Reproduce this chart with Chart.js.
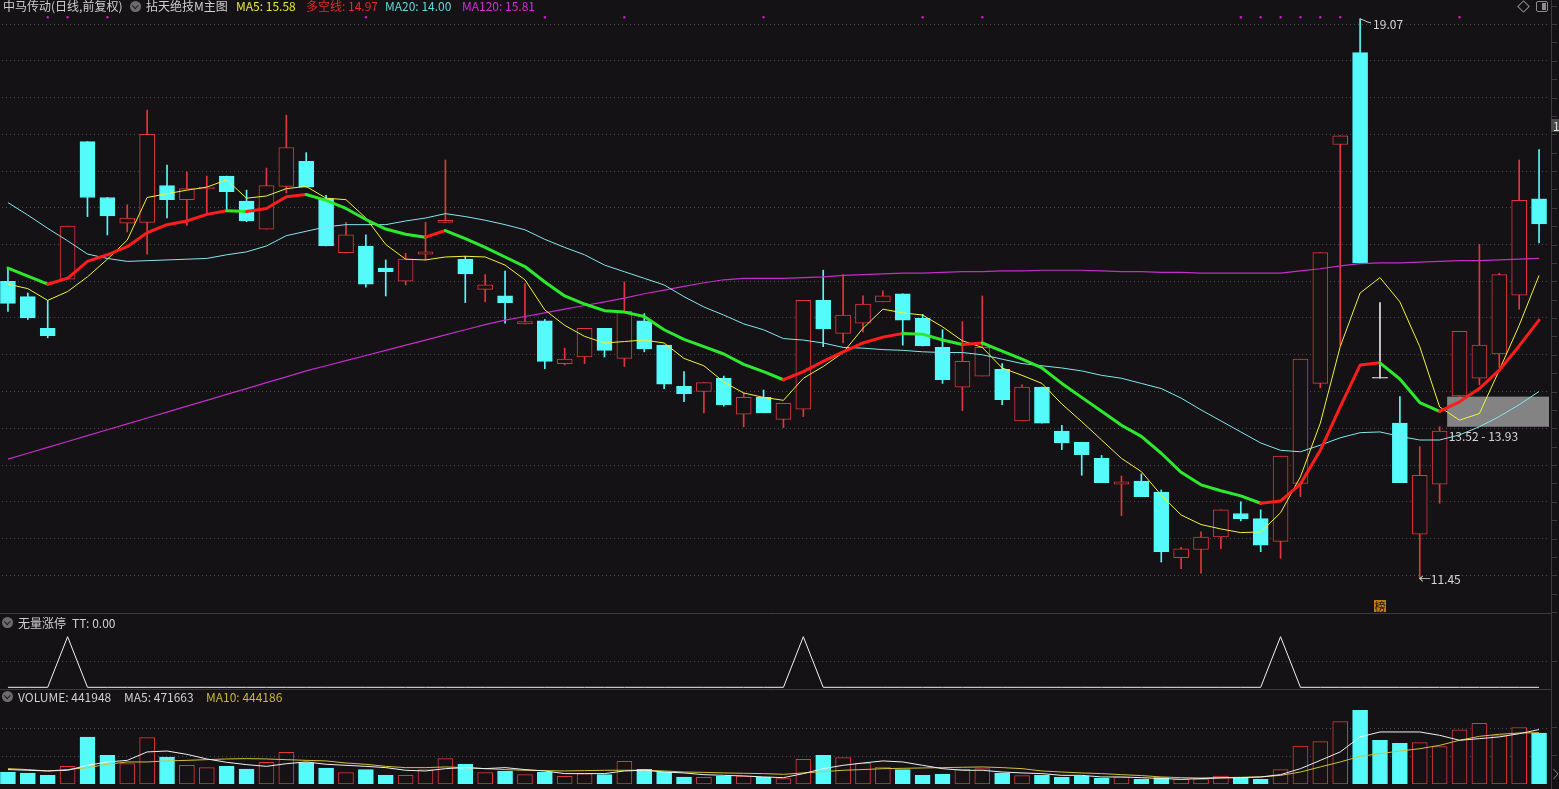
<!DOCTYPE html>
<html lang="zh-CN">
<head>
<meta charset="utf-8">
<title>中马传动</title>
<script src="https://cdn.jsdelivr.net/npm/chart.js@4.4.1/dist/chart.umd.min.js"></script>
<style>
  html, body { margin:0; padding:0; width:1559px; height:789px; overflow:hidden; background:#141215; }
  body { position:relative; font-family:"Noto Sans CJK SC","Noto Sans",sans-serif; }
  .box { position:absolute; left:-2px; width:1551px; }
  .t { position:absolute; font-size:12px; line-height:14px; white-space:nowrap; color:#cfcfcf; }
  .ic { position:absolute; width:11px; height:11px; border-radius:50%; background:#6c6c6c; }
  .ic::after { content:''; position:absolute; left:3.2px; top:2px; width:3.5px; height:3.5px; border-right:1.6px solid #161616; border-bottom:1.6px solid #161616; transform:rotate(45deg); }
  #decor { position:absolute; left:0; top:0; pointer-events:none; }
  .ann { position:absolute; font-size:12px; line-height:14px; white-space:nowrap; color:#d6d6d6; }
</style>
</head>
<body>
<div class="box" style="top:0;height:613px"><canvas id="cMain"></canvas></div>
<div class="box" style="top:614px;height:75px"><canvas id="cTT"></canvas></div>
<div class="box" style="top:700px;height:84px"><canvas id="cVol"></canvas></div>
<canvas id="decor" width="1559" height="789"></canvas>

<div class="t" style="left:3px;top:-1px">中马传动(日线,前复权)</div>
<div class="ic" style="left:130px;top:1px"></div>
<div class="t" style="left:146px;top:-1px">拈天绝技M主图</div>
<div class="t" style="left:236px;top:-1px;color:#e8e82e">MA5: 15.58</div>
<div class="t" style="left:306px;top:-1px;color:#e42a2a">多空线: 14.97</div>
<div class="t" style="left:385px;top:-1px;color:#5cd8dc">MA20: 14.00</div>
<div class="t" style="left:462px;top:-1px;color:#d42ed4">MA120: 15.81</div>

<div class="ic" style="left:2px;top:617px"></div>
<div class="t" style="left:18px;top:616px">无量涨停</div>
<div class="t" style="left:72px;top:616px">TT: 0.00</div>

<div class="ic" style="left:2px;top:691px"></div>
<div class="t" style="left:18px;top:690px">VOLUME: 441948</div>
<div class="t" style="left:124px;top:690px">MA5: 471663</div>
<div class="t" style="left:206px;top:690px;color:#cbb63a">MA10: 444186</div>

<div style="position:absolute;left:1519px;top:2px;width:7px;height:7px;border:1px solid #8c8c8c;transform:rotate(45deg)"></div>
<div style="position:absolute;left:1536px;top:1px;width:10px;height:9px;border:1px solid #8c8c8c;border-radius:2px;overflow:hidden"><div style="position:absolute;left:5px;top:1px;width:4px;height:7px;background:#8c8c8c"></div></div>
<div class="t" style="left:1551px;top:119px;height:13px;line-height:13px;background:#4a4a4a;color:#e0e0e0;padding-left:2px">17.61</div>

<div class="ann" id="aMax">19.07</div>
<div class="ann" id="aMin">←11.45</div>
<div class="ann" id="aGap">13.52 - 13.93</div>
<div class="ann" id="aBang" style="width:12px;height:12px;line-height:12px;font-size:11px;text-align:center;background:#c27818;color:#2a1a08">榜</div>

<script>
// ---------------- data ----------------
const days = Array.from({length: 78}, (_, i) => 'D' + String(i + 1).padStart(2, '0'));

const opens = [15.50,15.29,14.86,15.53,17.40,16.64,16.29,16.30,16.80,16.61,
  16.76,16.93,16.59,16.21,16.79,17.13,16.62,15.89,15.98,15.68,
  15.50,15.87,16.30,15.80,15.39,15.30,14.92,14.96,14.38,14.47,
  14.86,14.45,14.96,14.63,14.07,14.00,14.18,13.69,13.92,13.62,
  13.76,15.24,14.79,14.93,15.22,15.33,15.00,14.60,14.06,14.21,
  14.30,13.60,14.06,13.46,13.31,13.09,12.74,12.78,12.63,11.74,
  11.85,12.02,12.34,12.27,11.96,12.75,14.11,17.36,18.61,14.18,
  13.57,12.06,12.74,13.94,14.18,14.51,15.31,16.62];
const highs = [15.68,15.34,15.24,16.25,17.40,16.64,16.54,17.83,17.08,16.99,
  16.93,16.93,16.74,17.04,17.76,17.25,16.67,16.30,16.13,15.79,
  15.88,16.30,17.15,15.84,15.59,15.64,15.47,14.98,14.59,14.86,
  14.86,15.49,15.06,14.63,14.27,14.12,14.21,13.98,14.02,13.84,
  15.24,15.65,15.59,15.30,15.37,15.33,15.05,14.84,14.95,15.30,
  14.38,14.09,14.06,13.54,13.31,13.13,12.85,12.88,12.66,11.88,
  12.09,12.39,12.50,12.39,13.12,14.44,15.89,17.48,19.07,15.21,
  13.93,13.25,13.52,14.82,16.00,15.61,17.15,17.29];
const lows = [15.09,14.98,14.73,15.53,16.38,16.13,16.17,15.87,16.36,16.26,
  16.42,16.47,16.31,16.21,16.70,16.78,15.98,15.89,15.42,15.30,
  15.45,15.79,16.30,15.21,15.22,14.93,14.92,14.31,14.36,14.38,
  14.47,14.34,14.54,14.04,13.86,13.71,13.80,13.52,13.71,13.51,
  13.66,14.61,14.66,14.81,15.22,14.63,14.62,14.11,13.74,14.21,
  13.82,13.60,13.57,13.21,12.86,12.76,12.31,12.57,11.68,11.59,
  11.53,11.86,12.24,11.82,11.73,12.57,14.05,14.63,15.75,14.18,
  12.76,11.45,12.48,13.93,14.09,14.32,15.12,16.02];
const closes = [15.20,15.00,14.76,16.25,16.64,16.39,16.36,17.50,16.61,16.76,
  16.78,16.72,16.32,16.80,17.32,16.78,15.98,16.13,15.46,15.63,
  15.80,15.90,16.33,15.60,15.45,15.21,14.95,14.41,14.44,14.86,
  14.56,15.09,14.58,14.10,13.97,14.12,13.82,13.92,13.71,13.84,
  15.24,14.85,15.04,15.19,15.30,14.97,14.62,14.16,14.41,14.60,
  13.89,14.06,13.57,13.30,13.14,12.76,12.77,12.57,11.82,11.86,
  12.02,12.39,12.27,11.91,13.12,14.44,15.89,17.48,15.75,14.18,
  12.76,12.86,13.46,14.82,14.63,15.59,16.60,16.28];

const ma5 = [15.46,15.40,15.24,15.36,15.56,15.80,16.06,16.64,16.69,16.74,
  16.78,16.88,16.63,16.66,16.76,16.79,16.63,16.61,16.36,16.00,
  15.80,15.79,15.83,15.84,15.83,15.72,15.52,15.11,14.90,14.75,
  14.66,14.68,14.70,14.66,14.45,14.35,14.13,13.98,13.92,13.88,
  14.18,14.34,14.53,14.86,15.12,15.07,15.04,14.88,14.69,14.60,
  14.32,14.22,14.11,13.83,13.59,13.34,13.09,12.91,12.59,12.32,
  12.19,12.13,12.08,12.09,12.35,12.84,13.57,14.61,15.34,15.55,
  15.22,14.61,13.79,13.61,13.70,14.29,14.90,15.58];
const bbi = [15.68,15.57,15.46,15.54,15.77,15.86,15.97,16.16,16.27,16.32,
  16.41,16.46,16.45,16.49,16.65,16.68,16.60,16.49,16.34,16.21,
  16.14,16.10,16.19,16.08,15.96,15.83,15.70,15.49,15.30,15.19,
  15.10,15.08,15.02,14.84,14.71,14.61,14.51,14.37,14.27,14.16,
  14.27,14.41,14.54,14.66,14.74,14.79,14.78,14.70,14.64,14.66,
  14.55,14.44,14.32,14.11,13.92,13.73,13.54,13.39,13.16,12.90,
  12.73,12.65,12.58,12.48,12.51,12.74,13.20,13.79,14.36,14.39,
  14.17,13.85,13.73,13.86,14.04,14.29,14.62,14.97];
const ma20 = [16.57,16.40,16.22,16.05,15.87,15.81,15.77,15.78,15.79,15.80,
  15.81,15.86,15.90,15.98,16.12,16.18,16.24,16.27,16.27,16.27,
  16.32,16.36,16.42,16.38,16.33,16.27,16.20,16.07,15.96,15.86,
  15.72,15.63,15.54,15.45,15.29,15.15,15.04,14.92,14.84,14.72,
  14.70,14.66,14.60,14.59,14.57,14.56,14.54,14.53,14.53,14.50,
  14.44,14.38,14.35,14.32,14.28,14.22,14.18,14.11,14.04,13.91,
  13.75,13.60,13.45,13.30,13.20,13.18,13.27,13.37,13.44,13.45,
  13.39,13.34,13.34,13.41,13.52,13.66,13.82,14.00];
const ma120 = [13.08,13.16,13.24,13.32,13.40,13.48,13.56,13.64,13.72,13.80,
  13.88,13.96,14.04,14.12,14.20,14.28,14.35,14.42,14.49,14.56,
  14.63,14.70,14.77,14.84,14.91,14.97,15.02,15.07,15.12,15.17,
  15.22,15.27,15.33,15.38,15.43,15.48,15.52,15.54,15.54,15.54,
  15.55,15.56,15.58,15.59,15.60,15.61,15.61,15.62,15.63,15.63,
  15.64,15.64,15.65,15.65,15.65,15.64,15.63,15.63,15.62,15.62,
  15.61,15.61,15.61,15.61,15.61,15.64,15.67,15.71,15.74,15.75,
  15.75,15.76,15.77,15.78,15.78,15.79,15.80,15.81];

// top signal markers (1 = marker shown on that day)
const signal = [0,0,1,1,0,1,0,0,0,0, 0,0,0,0,0,0,0,0,1,0,
  0,0,0,0,0,0,0,1,0,0, 0,1,0,0,0,0,0,0,1,0,
  0,0,0,0,0,0,1,0,0,1, 0,0,0,0,0,0,0,0,0,0,
  0,0,1,1,1,1,1,1,0,0, 0,0,0,1,0,0,0,0];

const tt = [0,0,0,1,0,0,0,0,0,0, 0,0,0,0,0,0,0,0,0,0,
  0,0,0,0,0,0,0,0,0,0, 0,0,0,0,0,0,0,0,0,0,
  1,0,0,0,0,0,0,0,0,0, 0,0,0,0,0,0,0,0,0,0,
  0,0,0,0,1,0,0,0,0,0, 0,0,0,0,0,0,0,0];

const volume = [104000,95000,75000,153000,407000,249000,177000,402000,234000,162000,
  142000,153000,130000,188000,275000,185000,139000,99000,125000,75000,
  75000,125000,220000,171000,99000,113000,81000,104000,67000,90000,
  81000,197000,127000,104000,61000,58000,67000,69000,61000,47000,
  214000,249000,229000,182000,147000,125000,75000,84000,127000,133000,
  95000,73000,75000,58000,69000,49000,61000,41000,55000,41000,
  43000,69000,52000,41000,125000,329000,367000,541000,639000,379000,
  353000,359000,324000,470000,525000,420000,490000,441948];
const volMa5 = [125000,119000,113000,119000,162000,191000,205000,278000,286000,257000,
  217000,188000,168000,153000,176000,191000,171000,162000,153000,142000,
  119000,113000,133000,142000,133000,142000,125000,113000,90000,90000,
  90000,113000,119000,104000,96000,81000,75000,70000,61000,55000,
  90000,133000,162000,182000,200000,191000,162000,133000,119000,119000,
  104000,96000,90000,75000,75000,61000,61000,55000,47000,41000,
  47000,52000,55000,61000,81000,133000,205000,278000,408000,451000,
  451000,451000,422000,379000,393000,408000,436000,471663];
const volMa10 = [133000,125000,113000,125000,142000,171000,191000,191000,200000,205000,
  211000,217000,220000,217000,211000,205000,200000,182000,171000,153000,
  142000,142000,148000,142000,133000,125000,119000,116000,113000,116000,
  119000,119000,119000,113000,104000,101000,96000,93000,90000,84000,
  96000,107000,119000,125000,133000,136000,139000,142000,145000,148000,
  142000,133000,113000,104000,96000,90000,81000,73000,61000,55000,
  52000,55000,58000,61000,75000,104000,148000,191000,240000,263000,
  286000,306000,335000,379000,413000,431000,442000,444186];

const gapRange = [13.52, 13.93];   // price gap box
const gapFrom = 72;                // box starts right of this day
const bangDay = 69;                // 榜 marker day

// ---------------- style ----------------
const BG = '#141215', RED = '#e3353d', CYAN = '#55fbfb', WHITE = '#e6e6e6';
const GRID = 'rgba(95,95,95,0.75)';
const BODY_W = 15;

const dir = closes.map((c, i) => c > opens[i] ? 1 : (c < opens[i] ? -1 : 0));
const bodyFill = dir.map(d => d > 0 ? BG : (d < 0 ? CYAN : WHITE));
const bodyLine = dir.map(d => d > 0 ? RED : (d < 0 ? CYAN : WHITE));
const volFill = dir.map(d => d > 0 ? BG : CYAN);
const volLine = dir.map(d => d > 0 ? RED : CYAN);

const baseOpts = (yScale) => ({
  responsive: true, maintainAspectRatio: false, animation: false, events: [],
  devicePixelRatio: 1,
  layout: { padding: 0, autoPadding: false },
  plugins: { legend: { display: false }, tooltip: { enabled: false } },
  scales: Object.assign({ x: { type: 'category', offset: true, display: false } }, yScale)
});
const gridY = (min, max, step, keep) => ({
  type: 'linear', min, max, position: 'left',
  ticks: { display: false, stepSize: step },
  grid: { color: GRID, drawTicks: false, lineWidth: 1 },
  border: { display: false, dash: [1, 3] },
  afterFit(s) { s.width = 0; },
  afterBuildTicks(s) { s.ticks = s.ticks.filter(t => keep(t.value)); }
});

// ---------------- main price chart ----------------
const PMAX = 19 + 24 / 73.5, PMIN = 19 - 589 / 73.5;
const gapPlugin = {
  id: 'gap',
  beforeDatasetsDraw(chart) {
    const { ctx, chartArea, scales } = chart;
    const x0 = scales.x.getPixelForValue(gapFrom) + BODY_W / 2;
    const yTop = scales.y.getPixelForValue(gapRange[1]);
    const yBot = scales.y.getPixelForValue(gapRange[0]);
    ctx.save();
    ctx.fillStyle = '#838383';
    ctx.fillRect(x0, yTop, chartArea.right + 2 - x0, yBot - yTop);
    ctx.restore();
  }
};

const main = new Chart(document.getElementById('cMain'), {
  type: 'bar',
  data: {
    labels: days,
    datasets: [
      { type: 'line', label: 'signal', yAxisID: 'sig', data: signal.map(s => s ? 1 : null),
        showLine: false, pointStyle: 'rect', pointRadius: 1.5, pointBackgroundColor: '#e020e0',
        pointBorderWidth: 0, order: 0 },
      { type: 'line', label: '多空线', data: bbi, borderWidth: 3, pointRadius: 0, tension: 0,
        borderColor: '#ff1c1c', borderCapStyle: 'round', borderJoinStyle: 'round',
        segment: { borderColor: c => c.p1.parsed.y >= c.p0.parsed.y ? '#ff1c1c' : '#2ee82e' }, order: 1 },
      { type: 'line', label: 'MA5', data: ma5, borderWidth: 1, pointRadius: 0, tension: 0,
        borderColor: '#f2f23a', order: 2 },
      { type: 'line', label: 'MA20', data: ma20, borderWidth: 1, pointRadius: 0, tension: 0,
        borderColor: '#86e6ee', order: 3 },
      { type: 'line', label: 'MA120', data: ma120, borderWidth: 1.2, pointRadius: 0, tension: 0,
        borderColor: '#c22ec8', order: 4 },
      { label: 'body', data: opens.map((o, i) => [Math.min(o, closes[i]), Math.max(o, closes[i])]),
        backgroundColor: bodyFill, borderColor: bodyLine, borderWidth: 1, borderSkipped: false,
        barThickness: BODY_W, minBarLength: 1, grouped: false, order: 10 },
      { label: 'wick', data: lows.map((l, i) => [l, highs[i]]),
        backgroundColor: bodyLine, borderWidth: 0, barThickness: 1, grouped: false, order: 11 }
    ]
  },
  options: baseOpts({
    y: gridY(PMIN, PMAX, 0.5, v => Math.abs(v * 2 - Math.round(v * 2)) < 1e-6 && v >= 11.4),
    sig: { type: 'linear', min: 0, max: 1.029, display: false }
  }),
  plugins: [gapPlugin]
});

// ---------------- TT panel ----------------
const tChart = new Chart(document.getElementById('cTT'), {
  type: 'line',
  data: { labels: days, datasets: [
    { data: tt, borderColor: '#f2f2f2', borderWidth: 1, pointRadius: 0, tension: 0 }
  ]},
  options: baseOpts({ y: gridY(-0.0336, 1.4486, 0.5, v => Math.abs(v - 0.5) < 1e-6) })
});

// ---------------- volume panel ----------------
const VMAX = 728000;
const vChart = new Chart(document.getElementById('cVol'), {
  type: 'bar',
  data: { labels: days, datasets: [
    { type: 'line', data: volMa5, borderColor: '#f0f0f0', borderWidth: 1, pointRadius: 0, tension: 0, order: 0 },
    { type: 'line', data: volMa10, borderColor: '#d4c03a', borderWidth: 1, pointRadius: 0, tension: 0, order: 1 },
    { data: volume, backgroundColor: volFill, borderColor: volLine, borderWidth: 1, borderSkipped: false,
      barThickness: BODY_W, grouped: false, order: 5 }
  ]},
  options: baseOpts({ y: gridY(0, VMAX, VMAX / 3, v => v > 1 && v < VMAX - 1) })
});

// ---------------- decorations & annotations ----------------
const d = document.getElementById('decor').getContext('2d');
d.strokeStyle = '#3b3b3b'; d.lineWidth = 1;
d.beginPath();
d.moveTo(1551.5, 0); d.lineTo(1551.5, 789);
for (let v = 11; v <= 19.3; v += 0.25) {
  const y = Math.round(main.scales.y.getPixelForValue(v)) + 0.5;
  d.moveTo(1552, y); d.lineTo(1557, y);
}
d.moveTo(1552, 727.5); d.lineTo(1557, 727.5);
d.moveTo(1552, 755.5); d.lineTo(1557, 755.5);
d.moveTo(1552, 661.5); d.lineTo(1557, 661.5);
d.moveTo(0, 613.5); d.lineTo(1551, 613.5);
d.moveTo(0, 689.5); d.lineTo(1551, 689.5);
d.stroke();
// collapse chevron at right edge of volume panel
d.strokeStyle = '#8a8a8a';
d.beginPath(); d.moveTo(1553.5, 769); d.lineTo(1558, 774); d.lineTo(1553.5, 779); d.stroke();

const xs = main.scales.x, ys = main.scales.y;
const hiIdx = highs.indexOf(Math.max(...highs));
const loIdx = lows.indexOf(Math.min(...lows));
const place = (id, x, yc) => { const e = document.getElementById(id); e.style.left = x + 'px'; e.style.top = (yc - 7) + 'px'; };
const px = i => xs.getPixelForValue(i) - 2;
place('aMax', px(hiIdx) + 13, ys.getPixelForValue(highs[hiIdx]) + 5);
place('aMin', px(loIdx) - 1, ys.getPixelForValue(lows[loIdx]));
place('aGap', px(gapFrom) + 9, ys.getPixelForValue(gapRange[0]) + 9);
const bang = document.getElementById('aBang');
bang.style.left = (px(bangDay) - 6) + 'px'; bang.style.top = '600px';
// small pointer from max high to label
d.strokeStyle = '#d0d0d0';
d.beginPath();
const mx = px(hiIdx), my = ys.getPixelForValue(highs[hiIdx]);
d.moveTo(mx, my); d.lineTo(mx + 4, my + 1.5); d.lineTo(mx + 7, my + 3); d.lineTo(mx + 11, my + 4);
d.stroke();
</script>
</body>
</html>
